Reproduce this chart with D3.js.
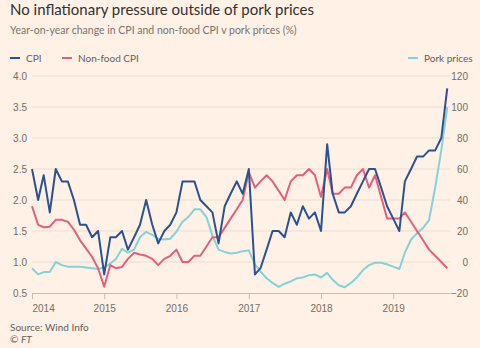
<!DOCTYPE html>
<html>
<head>
<meta charset="utf-8">
<script src="https://cdn.jsdelivr.net/npm/d3@7"></script>
<style>
	body { margin: 0; background: #fff1e5; }
	svg { display: block; font-family: Lato, "Noto Sans", sans-serif; }
	.grid line { stroke: #eaddd2; stroke-width: 1; }
	.tick text { fill: #746d68; font-size: 10px; }
	.title { fill: #33302e; font-size: 15px; }
	.subtitle { fill: #7a736e; font-size: 10.5px; }
	.legend text { fill: #66605c; font-size: 10px; }
	.source { fill: #66605c; font-size: 10px; }
	.series { fill: none; stroke-width: 2; stroke-linejoin: round; }
</style>
</head>
<body>
<div id="chart"></div>
<script>
"use strict";

// Monthly series, Jan 2014 - Oct 2019 (% year-on-year)
var months = d3.timeMonths(new Date(2014, 0, 1), new Date(2019, 10, 1));

var cpi = [
	2.5, 2.0, 2.4, 1.8, 2.5, 2.3, 2.3, 2.0, 1.6, 1.6, 1.4, 1.5,
	0.8, 1.4, 1.4, 1.5, 1.2, 1.4, 1.6, 2.0, 1.6, 1.3, 1.5, 1.6,
	1.8, 2.3, 2.3, 2.3, 2.0, 1.9, 1.8, 1.3, 1.9, 2.1, 2.3, 2.1,
	2.5, 0.8, 0.9, 1.2, 1.5, 1.5, 1.4, 1.8, 1.6, 1.9, 1.7, 1.8,
	1.5, 2.9, 2.1, 1.8, 1.8, 1.9, 2.1, 2.3, 2.5, 2.5, 2.2, 1.9,
	1.7, 1.5, 2.3, 2.5, 2.7, 2.7, 2.8, 2.8, 3.0, 3.8
];

var nonFoodCpi = [
	1.9, 1.6, 1.56, 1.57, 1.68, 1.68, 1.65, 1.52, 1.35, 1.22, 1.08, 0.9,
	0.6, 0.95, 0.9, 0.92, 1.05, 1.15, 1.12, 1.1, 1.05, 0.95, 1.05, 1.1,
	1.2, 1.0, 1.0, 1.1, 1.1, 1.25, 1.4, 1.4, 1.55, 1.7, 1.85, 2.0,
	2.45, 2.2, 2.3, 2.4, 2.3, 2.15, 2.0, 2.3, 2.4, 2.4, 2.5, 2.4,
	2.05, 2.5, 2.1, 2.1, 2.2, 2.2, 2.4, 2.5, 2.2, 2.4, 2.05, 1.7,
	1.7, 1.7, 1.8, 1.65, 1.5, 1.35, 1.2, 1.1, 1.0, 0.9
];

var porkPrices = [
	-4, -8, -6.5, -6.5, 0, -2, -3, -3, -3, -3.5, -4, -4.5,
	-3.5, -1, 2, 8.5, 6, 8, 16, 19.5, 17.5, 15, 14.5, 15,
	19.5, 26, 29, 34, 34, 29, 17, 8, 6.5, 5.5, 6, 7,
	7.5, -1.5, -6, -10.5, -13.5, -16, -14, -12.5, -10.5, -10, -8.5, -8,
	-10, -7, -11.5, -15, -16.3, -13.5, -10, -5.2, -2, -0.5, -0.5, -1.5,
	-3, -4.5, 6, 14.5, 18.5, 22, 27, 48, 72, 100
];

var leftTicks = [0.5, 1.0, 1.5, 2.0, 2.5, 3.0, 3.5, 4.0];
var rightTicks = [-20, 0, 20, 40, 60, 80, 100, 120];
var yearTicks = [2014, 2015, 2016, 2017, 2018, 2019];

var colors = {cpi: "#2a5193", nonFood: "#e1607c", pork: "#83d3d6"};

var W = 480, H = 348;
var plot = {left: 32, right: 450, top: 76, bottom: 293};

var svg = d3.select("#chart").append("svg")
	.attr("width", W)
	.attr("height", H);

var scaleX = d3.scaleTime()
	.domain([new Date(2014, 0, 1), new Date(2019, 9, 15)])
	.range([plot.left, plot.right]);
var scaleY = d3.scaleLinear()
	.domain([0.5, 4.0])
	.range([plot.bottom, plot.top]);
var scaleY2 = d3.scaleLinear()
	.domain([-20, 120])
	.range([plot.bottom, plot.top]);

// header
svg.append("text").attr("class", "title")
	.attr("x", 10).attr("y", 15)
	.text("No inflationary pressure outside of pork prices");
svg.append("text").attr("class", "subtitle")
	.attr("x", 10).attr("y", 34)
	.text("Year-on-year change in CPI and non-food CPI v pork prices (%)");

// legend
var legendItems = [
	{label: "CPI", color: colors.cpi, x: 10},
	{label: "Non-food CPI", color: colors.nonFood, x: 62},
	{label: "Pork prices", color: colors.pork, x: 408}
];
var legend = svg.append("g").attr("class", "legend");
legendItems.forEach(function(d) {
	legend.append("line")
		.attr("x1", d.x).attr("x2", d.x + 10)
		.attr("y1", 58).attr("y2", 58)
		.attr("stroke", d.color)
		.attr("stroke-width", 2);
	legend.append("text")
		.attr("x", d.x + 16).attr("y", 61.5)
		.text(d.label);
});

// horizontal grid from the left scale
svg.append("g").attr("class", "grid")
	.selectAll("line")
	.data(leftTicks.slice(1))
	.enter().append("line")
	.attr("x1", plot.left).attr("x2", plot.right)
	.attr("y1", function(d) { return scaleY(d); })
	.attr("y2", function(d) { return scaleY(d); });

// left axis
var yAxis = svg.append("g")
	.attr("transform", "translate(" + (plot.left - 4) + ",0)")
	.call(d3.axisLeft(scaleY)
		.tickValues(leftTicks)
		.tickFormat(d3.format(".1f"))
		.tickSize(0)
		.tickPadding(1));
yAxis.select(".domain").remove();

// right axis
var yAxis2 = svg.append("g")
	.attr("transform", "translate(468,0)")
	.call(d3.axisLeft(scaleY2)
		.tickValues(rightTicks)
		.tickSize(0)
		.tickPadding(0));
yAxis2.select(".domain").remove();

// bottom axis
var xAxis = svg.append("g")
	.attr("transform", "translate(0," + plot.bottom + ")")
	.call(d3.axisBottom(scaleX)
		.tickValues(yearTicks.map(function(y) { return new Date(y, 0, 1); }))
		.tickFormat(d3.timeFormat("%Y"))
		.tickSizeInner(6)
		.tickSizeOuter(0)
		.tickPadding(6));
xAxis.select(".domain")
	.attr("stroke", "#c9bdb3");
xAxis.selectAll(".tick line").attr("stroke", "#c9bdb3");
xAxis.selectAll(".tick text")
	.filter(function(d, i) { return i === 0; })
	.attr("text-anchor", "start");

// lines
function drawLine(values, y, color) {
	var line = d3.line()
		.x(function(d, i) { return scaleX(months[i]); })
		.y(function(d) { return y(d); });
	svg.append("path")
		.datum(values)
		.attr("class", "series")
		.attr("stroke", color)
		.attr("d", line);
}
drawLine(porkPrices, scaleY2, colors.pork);
drawLine(nonFoodCpi, scaleY, colors.nonFood);
drawLine(cpi, scaleY, colors.cpi);

// footer
svg.append("text").attr("class", "source")
	.attr("x", 10).attr("y", 331)
	.text("Source: Wind Info");
var copy = svg.append("text").attr("class", "source")
	.attr("x", 10).attr("y", 343);
copy.append("tspan").text("\u00a9 ");
copy.append("tspan").style("font-style", "italic").text("FT");
</script>
</body>
</html>
